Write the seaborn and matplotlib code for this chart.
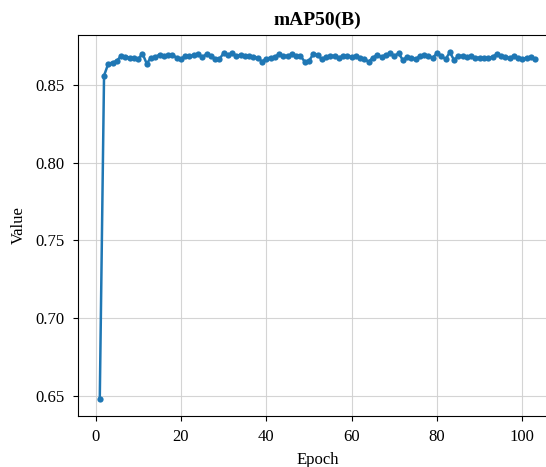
import numpy as np
import pandas as pd
import matplotlib
matplotlib.use("Agg")
import matplotlib.pyplot as plt
import seaborn as sns

epochs = list(range(1, 104))
values = [
    0.648, 0.856, 0.8637, 0.8644, 0.8655, 0.8687, 0.8683, 0.8676, 0.8672, 0.8666,
    0.8702, 0.8637, 0.8676, 0.8680, 0.8695, 0.8687, 0.8690, 0.8693, 0.8676, 0.8666,
    0.8687, 0.8687, 0.8690, 0.8698, 0.8680, 0.8698, 0.8687, 0.8670, 0.8666, 0.8704,
    0.8694, 0.8704, 0.8687, 0.8694, 0.8687, 0.8687, 0.8681, 0.8676, 0.8650, 0.8670,
    0.8676, 0.8681, 0.8698, 0.8687, 0.8687, 0.8698, 0.8687, 0.8687, 0.8650, 0.8655,
    0.8698, 0.8694, 0.8666, 0.8681, 0.8687, 0.8687, 0.8676, 0.8687, 0.8687, 0.8681,
    0.8687, 0.8676, 0.8666, 0.8650, 0.8676, 0.8694, 0.8681, 0.8694, 0.8704, 0.8687,
    0.8704, 0.8660, 0.8681, 0.8676, 0.8666, 0.8687, 0.8694, 0.8687, 0.8676, 0.8704,
    0.8687, 0.8666, 0.8710, 0.8660, 0.8687, 0.8687, 0.8681, 0.8687, 0.8673, 0.8676,
    0.8676, 0.8673, 0.8681, 0.8698, 0.8687, 0.8681, 0.8673, 0.8687, 0.8673, 0.8666,
    0.8676, 0.8681, 0.8666,
]
title = "mAP50(B)"
xlabel = "Epoch"
ylabel = "Value"

df = pd.DataFrame({"Epoch": epochs, "Value": values})

plt.rcParams["font.family"] = ["Liberation Serif", "DejaVu Serif"]
fig = plt.figure(figsize=(5.46, 4.67), dpi=100)
# the axes extends a little past the right edge of the canvas, as in the reference
ax = fig.add_axes([78 / 546, 1 - 416 / 467, (557 - 78) / 546, (416 - 35) / 467])

sns.lineplot(data=df, x="Epoch", y="Value", ax=ax, marker="o", markersize=4.5,
             markeredgewidth=0, linewidth=1.8, color="#1f77b4")

ax.grid(True, color="#d0d0d0", linewidth=0.8, alpha=0.9)
ax.set_axisbelow(True)
ax.set_title(title, fontsize=14, fontweight="bold", pad=7)
ax.set_xlabel(xlabel, fontsize=12, labelpad=5)
ax.set_ylabel(ylabel, fontsize=12, labelpad=6)
ax.tick_params(labelsize=12, pad=6)
ax.set_yticks([0.65, 0.70, 0.75, 0.80, 0.85])

fig.savefig("out.png", dpi=100)
